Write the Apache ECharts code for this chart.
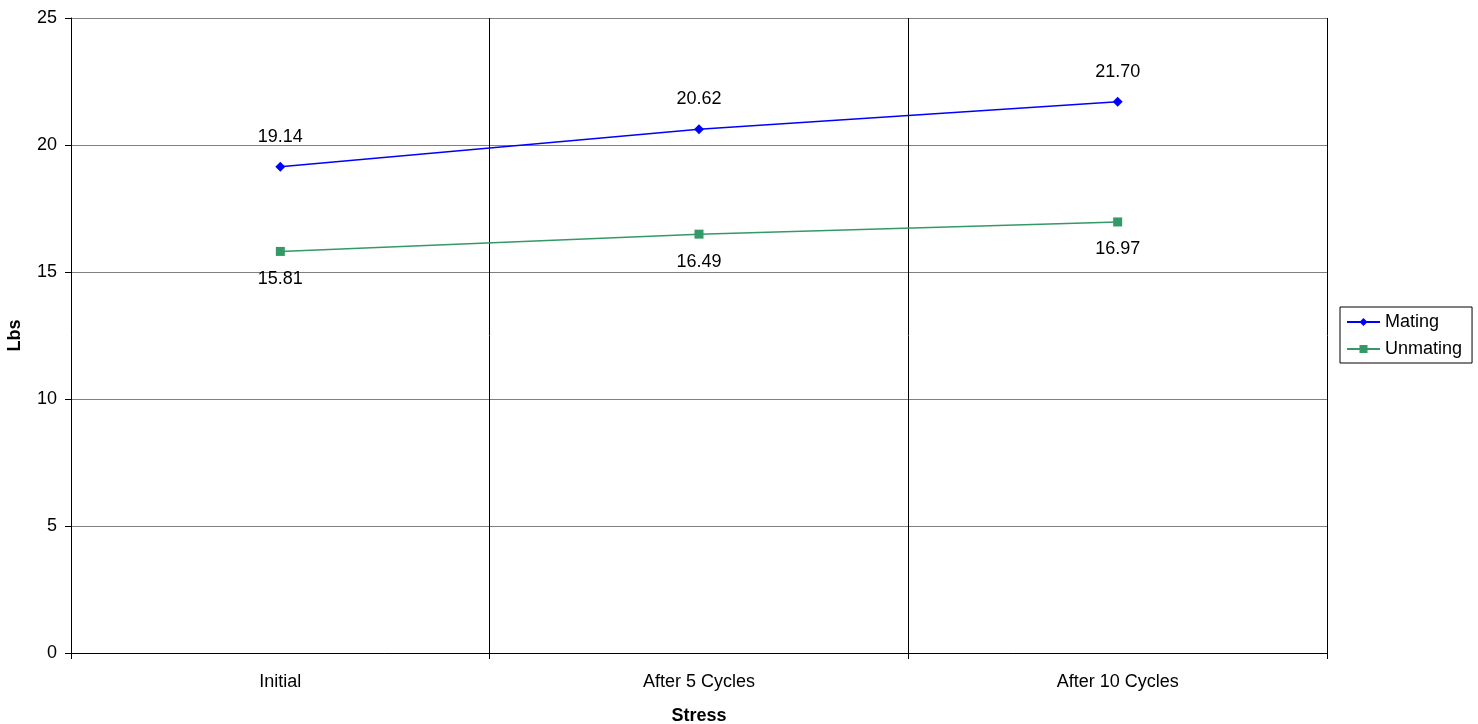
<!DOCTYPE html>
<html><head><meta charset="utf-8">
<script src="https://cdn.jsdelivr.net/npm/echarts@6/dist/echarts.min.js"></script>
<style>html,body{margin:0;padding:0;background:#fff;overflow:hidden}#c{width:1478px;height:724px}</style>
</head><body><div id="c"></div>
<script>
const categories = ['Initial', 'After 5 Cycles', 'After 10 Cycles'];
const mating = [19.14, 20.62, 21.70];
const unmating = [15.81, 16.49, 16.97];
const yTicks = [0, 5, 10, 15, 20, 25];

const chart = echarts.init(document.getElementById('c'), null, {renderer: 'canvas'});
const font = 'Arial, "Liberation Sans", sans-serif';
chart.setOption({
  animation: false,
  backgroundColor: '#fff',
  grid: {left: 71, right: 151, top: 18, bottom: 71, containLabel: false, outerBoundsMode: 'none'},
  legend: {
    orient: 'vertical', left: 1340, top: 307,
    borderColor: '#000', borderWidth: 1, padding: [6, 10, 5, 6],
    itemGap: 9, itemWidth: 33, itemHeight: 10,
    textStyle: {fontFamily: font, fontSize: 18, color: '#000'},
    data: ['Mating', 'Unmating']
  },
  xAxis: {
    type: 'category', data: categories, boundaryGap: true,
    name: 'Stress', nameLocation: 'middle', nameGap: 54,
    nameTextStyle: {fontFamily: font, fontSize: 18, fontWeight: 'bold', color: '#000'},
    axisLine: {lineStyle: {color: '#000', width: 1}},
    axisTick: {show: true, length: 6, lineStyle: {color: '#000'}},
    axisLabel: {fontFamily: font, fontSize: 18, color: '#000', margin: 20},
    splitLine: {show: true, lineStyle: {color: '#000', width: 1}}
  },
  yAxis: {
    type: 'value', min: 0, max: 25, interval: 5,
    name: 'Lbs', nameLocation: 'middle', nameGap: 47,
    nameTextStyle: {fontFamily: font, fontSize: 18, fontWeight: 'bold', color: '#000'},
    axisLine: {show: true, lineStyle: {color: '#000', width: 1}},
    axisTick: {show: true, length: 6, lineStyle: {color: '#000'}},
    axisLabel: {fontFamily: font, fontSize: 18, color: '#000', margin: 14,
      formatter: v => yTicks.includes(v) ? String(v) : ''},
    splitLine: {show: true, lineStyle: {color: '#808080', width: 1}}
  },
  series: [
    {
      name: 'Mating', type: 'line', data: mating,
      symbol: 'diamond', symbolSize: 10, showAllSymbol: true,
      itemStyle: {color: '#0000FF'}, lineStyle: {color: '#0000FF', width: 1.5},
      label: {show: true, position: 'top', distance: 16, formatter: p => p.value.toFixed(2),
        fontFamily: font, fontSize: 18, color: '#000'}
    },
    {
      name: 'Unmating', type: 'line', data: unmating,
      symbol: 'rect', symbolSize: 9, showAllSymbol: true,
      itemStyle: {color: '#339966'}, lineStyle: {color: '#339966', width: 1.5},
      label: {show: true, position: 'bottom', distance: 14, formatter: p => p.value.toFixed(2),
        fontFamily: font, fontSize: 18, color: '#000'}
    }
  ]
});
</script></body></html>
